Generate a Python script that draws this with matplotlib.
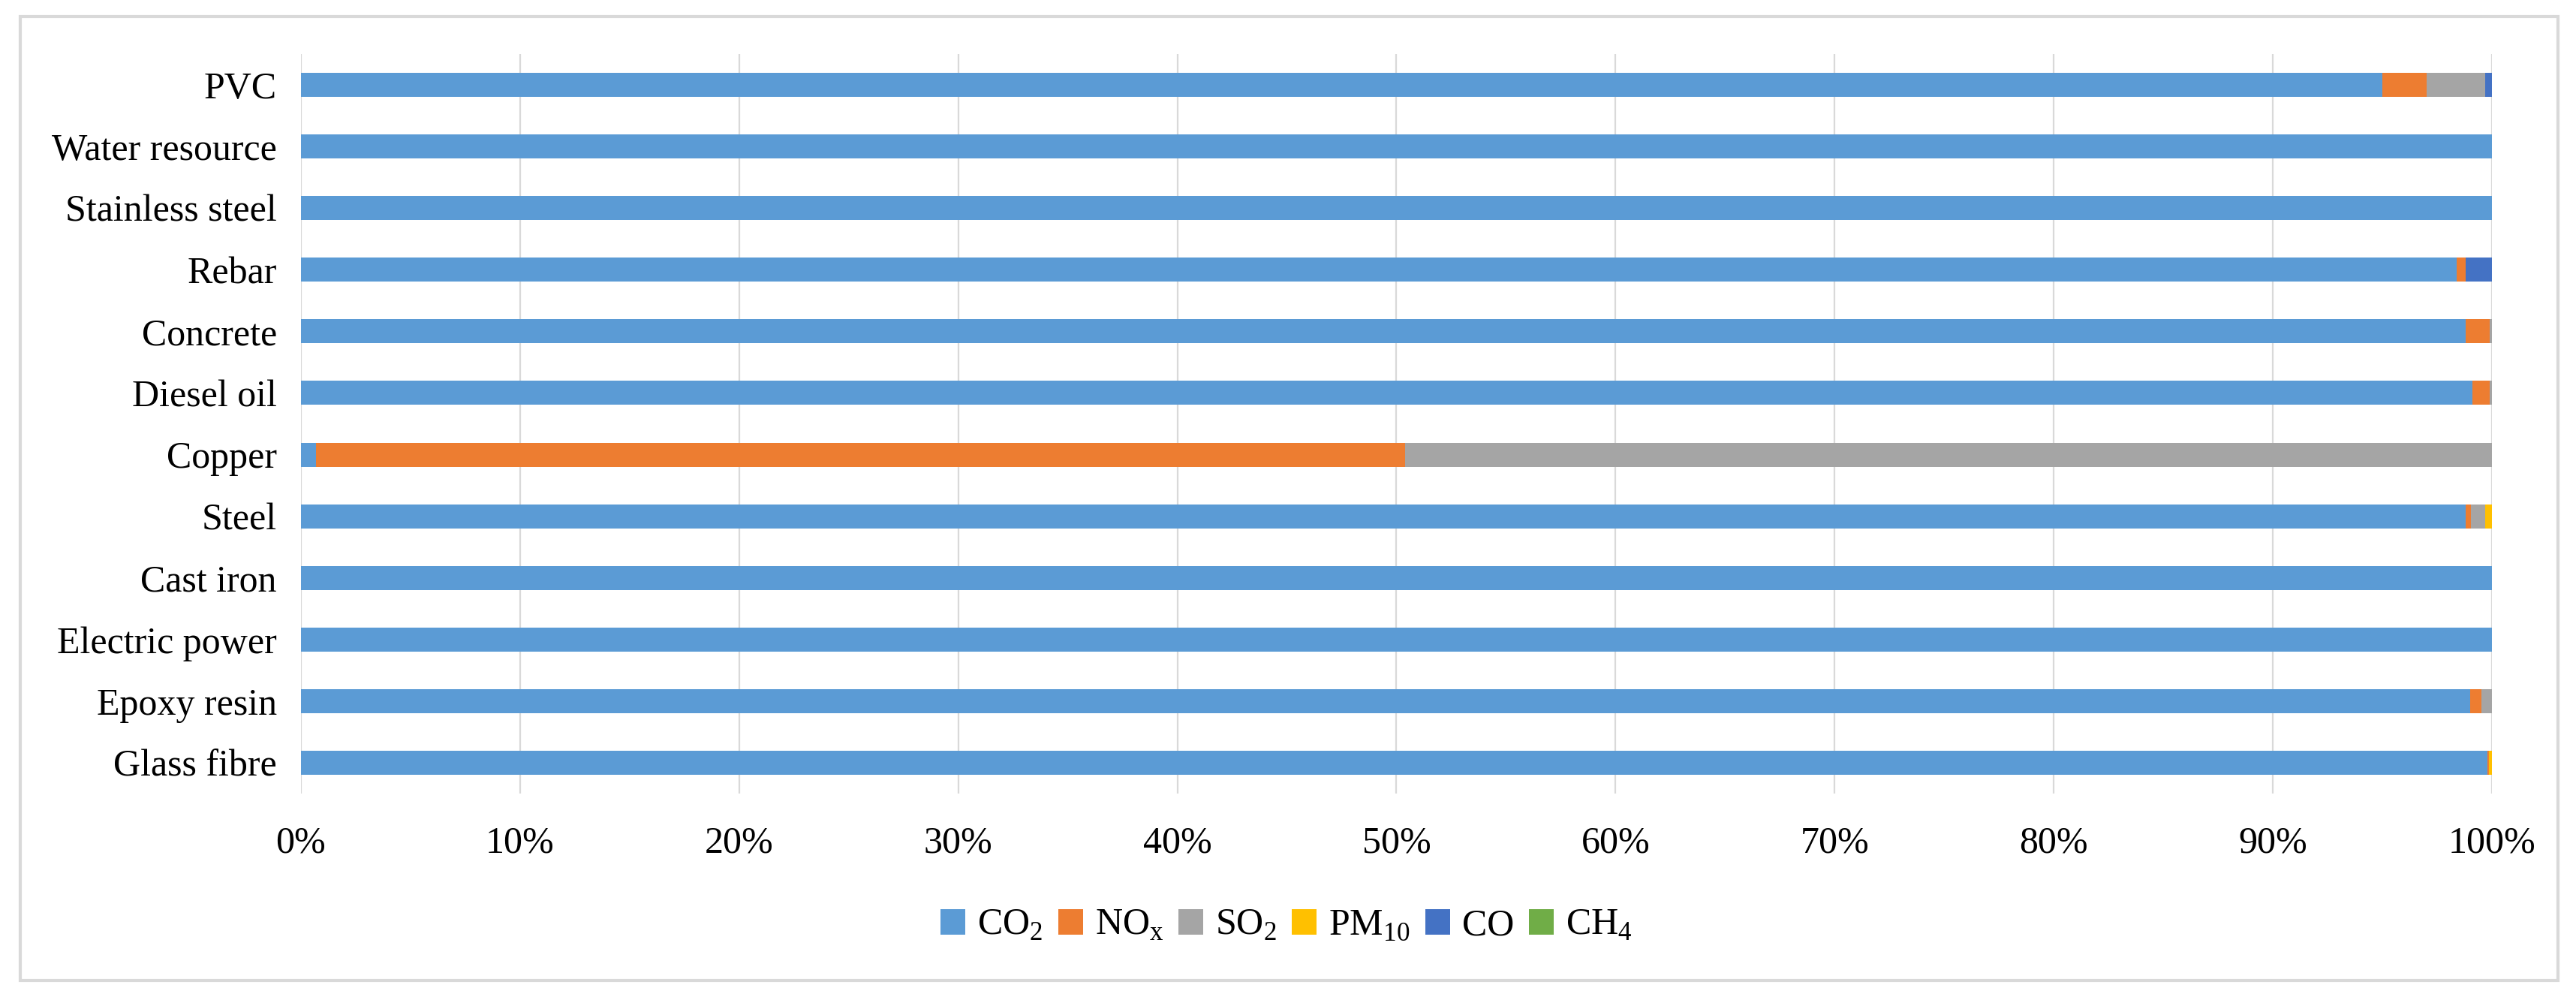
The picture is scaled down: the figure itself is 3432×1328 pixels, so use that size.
import matplotlib
matplotlib.use('Agg')
import matplotlib.pyplot as plt
import numpy as np
from matplotlib.patches import Rectangle
from matplotlib.ticker import PercentFormatter

plt.rcParams['font.family'] = ['Liberation Serif', 'DejaVu Serif']
plt.rcParams['mathtext.fontset'] = 'custom'
plt.rcParams['mathtext.rm'] = 'Liberation Serif'

# categories bottom -> top
materials = ['Glass fibre', 'Epoxy resin', 'Electric power', 'Cast iron', 'Steel', 'Copper',
             'Diesel oil', 'Concrete', 'Rebar', 'Stainless steel', 'Water resource', 'PVC']

# shares in percent, same order as materials
co2  = [99.80, 99.00, 100.0, 100.0, 98.80, 0.70, 99.10, 98.80, 98.40, 100.0, 100.0, 95.00]
nox  = [0.05, 0.50, 0.0, 0.0, 0.25, 49.70, 0.80, 1.10, 0.40, 0.0, 0.0, 2.00]
so2  = [0.00, 0.50, 0.0, 0.0, 0.65, 49.60, 0.10, 0.10, 0.00, 0.0, 0.0, 2.70]
pm10 = [0.15, 0.00, 0.0, 0.0, 0.30, 0.00, 0.00, 0.00, 0.00, 0.0, 0.0, 0.00]
co   = [0.00, 0.00, 0.0, 0.0, 0.00, 0.00, 0.00, 0.00, 1.20, 0.0, 0.0, 0.30]
ch4  = [0.00, 0.00, 0.0, 0.0, 0.00, 0.00, 0.00, 0.00, 0.00, 0.0, 0.0, 0.00]

series = [co2, nox, so2, pm10, co, ch4]
names = [r'CO$_\mathregular{2}$', r'NO$_\mathregular{x}$', r'SO$_\mathregular{2}$',
         r'PM$_\mathregular{10}$', 'CO', r'CH$_\mathregular{4}$']
colors = ['#5B9BD5', '#ED7D31', '#A5A5A5', '#FFC000', '#4472C4', '#70AD47']

fs = 36

fig = plt.figure(figsize=(34.32, 13.28), dpi=100)
ax = fig.add_axes([0.1168, 0.204, 0.8506, 0.7418])

y = np.arange(len(materials))
left = np.zeros(len(materials))
for vals, name, c in zip(series, names, colors):
    vals = np.array(vals)
    ax.barh(y, vals, left=left, height=0.39, color=c, label=name, zorder=3)
    left += vals

ax.set_xlim(0, 100)
ax.set_ylim(-0.5, len(materials) - 0.5)
ax.set_xticks(np.arange(0, 101, 10))
ax.xaxis.set_major_formatter(PercentFormatter(decimals=0))
ax.set_yticks(y)
ax.set_yticklabels(materials)
ax.tick_params(axis='both', length=0, labelsize=fs)
ax.tick_params(axis='x', pad=31)
ax.tick_params(axis='y', pad=23)
ax.grid(axis='x', color='#D9D9D9', linewidth=1.6, zorder=0)
for s in ax.spines.values():
    s.set_visible(False)

fig.legend(loc='center', bbox_to_anchor=(0.4994, 0.0715), ncol=6, frameon=False,
           fontsize=fs, handlelength=0.66, handleheight=0.66, handletextpad=0.32,
           columnspacing=0.4)

# outer frame
fig.patches.append(Rectangle((27 / 3432, 1 - 1306 / 1328), (3408 - 27) / 3432, (1306 - 22) / 1328,
                             transform=fig.transFigure, fill=False, edgecolor='#D9D9D9',
                             linewidth=3))

fig.savefig('out.png', dpi=100)
